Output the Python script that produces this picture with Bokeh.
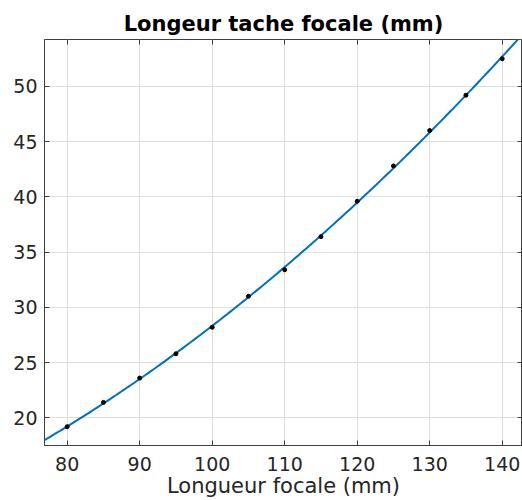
import numpy as np
from bokeh.plotting import figure
from bokeh.models import Range1d, LinearAxis, FixedTicker
from bokeh.embed import file_html
from bokeh.resources import INLINE

# data
focal = [80, 85, 90, 95, 100, 105, 110, 115, 120, 125, 130, 135, 140]
spot = [19.2, 21.4, 23.6, 25.8, 28.2, 31.0, 33.4, 36.4, 39.6, 42.8, 46.0, 49.2, 52.5]
x_ticks = [80, 90, 100, 110, 120, 130, 140]
y_ticks = [20, 25, 30, 35, 40, 45, 50]
x_lim = (76.87, 142.8)
y_lim = (17.5, 54.24)

# quadratic fit of the measured points (as in the original fitted curve)
coef = np.polyfit(focal, spot, 2)
xf = np.linspace(x_lim[0], x_lim[1], 200)
yf = np.polyval(coef, xf)

FONT = "DejaVu Sans"
AX = "#404040"
TXT = "#262626"

p = figure(width=522, height=500, output_backend="svg", toolbar_location=None,
           x_range=Range1d(*x_lim), y_range=Range1d(*y_lim),
           min_border_left=44, min_border_right=0, min_border_top=39, min_border_bottom=54,
           title="Longeur tache focale (mm)")
p.title.text_font = FONT
p.title.text_font_size = "21px"
p.title.text_font_style = "bold"
p.title.text_color = "#000000"
p.title.align = "center"
p.title.standoff = 7

p.outline_line_color = AX
p.outline_line_width = 1
p.outline_line_alpha = 1

for ax, ticks in ((p.xaxis[0], x_ticks), (p.yaxis[0], y_ticks)):
    ax.ticker = FixedTicker(ticks=ticks)
    ax.major_tick_in = 5
    ax.major_tick_out = 0
    ax.minor_tick_line_color = None
    ax.axis_line_color = AX
    ax.major_tick_line_color = AX
    ax.major_label_text_font = FONT
    ax.major_label_text_font_size = "19px"
    ax.major_label_text_color = TXT
    ax.major_label_standoff = 7

p.xaxis.major_label_standoff = 11
p.xaxis.axis_label = "Longueur focale (mm)"
p.xaxis.axis_label_text_font = FONT
p.xaxis.axis_label_text_font_size = "21px"
p.xaxis.axis_label_text_font_style = "normal"
p.xaxis.axis_label_text_color = TXT
p.xaxis.axis_label_standoff = 0

for loc, ticks in (("above", x_ticks), ("right", y_ticks)):
    a = LinearAxis(ticker=FixedTicker(ticks=ticks))
    a.major_tick_in = 5
    a.major_tick_out = 0
    a.minor_tick_line_color = None
    a.axis_line_color = None
    a.major_tick_line_color = AX
    a.major_label_overrides = {t: "" for t in ticks}
    a.major_label_standoff = 0
    p.add_layout(a, loc)

p.xgrid.ticker = FixedTicker(ticks=x_ticks)
p.ygrid.ticker = FixedTicker(ticks=y_ticks)
p.grid.grid_line_color = "#dedede"
p.grid.grid_line_width = 1

p.line(xf, yf, line_color="#0072BD", line_width=2)
p.scatter(focal, spot, size=4, color="black")

open("out.html", "w").write(file_html(p, INLINE))
